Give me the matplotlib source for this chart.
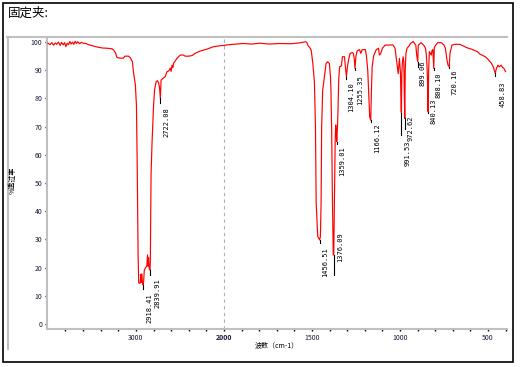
import numpy as np
import matplotlib
matplotlib.use('Agg')
import matplotlib.pyplot as plt
from matplotlib.lines import Line2D
from matplotlib.patches import Rectangle

plt.rcParams['font.family'] = ['Noto Sans CJK SC', 'DejaVu Sans']

# 红外光谱数据 (波数 cm-1, 透过率 %)
wavenumber = [
    4000, 3975, 3955, 3935, 3915, 3900, 3880, 3860, 3845, 3825, 3810, 3795, 3780,
    3765, 3750, 3735, 3720, 3705, 3690, 3675, 3660, 3640, 3620, 3600, 3570, 3530,
    3480, 3435, 3380, 3322, 3270, 3254, 3232, 3215, 3180, 3141, 3125, 3085, 3062,
    3040, 3028, 3006, 2994, 2986, 2975, 2968, 2950, 2945, 2940, 2932, 2926, 2918.41,
    2912, 2905, 2890, 2876, 2868, 2862, 2856, 2848, 2839.91, 2836, 2828, 2817, 2799,
    2788, 2770, 2755, 2742, 2732, 2722.08, 2714, 2690, 2667, 2647, 2625, 2610, 2600,
    2590, 2580, 2573, 2534, 2497, 2460, 2441, 2403, 2362, 2328, 2271, 2192, 2124,
    2045, 2000, 1983, 1893, 1840, 1797, 1740, 1684, 1620, 1571, 1535, 1528, 1525,
    1510, 1504, 1495, 1486, 1480, 1476, 1467, 1462, 1456.51, 1452, 1448, 1445, 1439,
    1429, 1420, 1411, 1401, 1395, 1392, 1388, 1384, 1379, 1376.09, 1372, 1368, 1365,
    1362, 1359.01, 1355, 1352, 1348, 1343, 1333, 1327, 1315, 1310, 1304.10, 1298,
    1290, 1283, 1270, 1265, 1260, 1255.35, 1250, 1243, 1230, 1222, 1215, 1196, 1190,
    1183, 1177, 1172, 1166.12, 1162, 1158, 1150, 1135, 1122, 1117, 1110, 1100, 1085,
    1040, 1028, 1021, 1010, 1003, 997, 993.5, 991.53, 989.5, 986, 982, 978, 975,
    972.62, 970, 966, 960, 950, 940, 925, 910, 905, 899.06, 896, 880, 865, 855, 850,
    847, 843, 840.13, 837, 833, 826, 822, 818, 813, 810, 808.10, 805, 797, 785, 765,
    750, 742, 733, 727, 720.16, 716, 705, 690, 660, 640, 620, 590, 560, 545, 515,
    500, 480, 470, 458.83, 452, 443, 436, 425, 418, 410, 400,
]
transmittance = [
    99.6, 99.1, 99.8, 98.9, 99.7, 99.2, 100.0, 98.8, 99.9, 99.0, 99.8, 98.4, 99.6,
    99.1, 100.2, 99.3, 100.0, 99.2, 100.3, 99.5, 100.1, 99.4, 99.9, 99.6, 99.5, 99.0,
    98.6, 98.2, 97.9, 97.8, 97.6, 97.2, 96.2, 94.5, 94.3, 94.3, 95.0, 95.0, 94.4,
    93.0, 89.5, 84.8, 77.6, 59.0, 24.5, 14.5, 14.5, 17.5, 14.8, 17.8, 14.5, 13.8,
    15.0, 19.0, 20.0, 20.5, 24.5, 20.5, 23.5, 19.5, 19.1, 22.0, 52.8, 64.0, 77.7,
    83.0, 86.0, 86.3, 85.5, 84.0, 80.0, 86.5, 87.2, 87.7, 89.5, 89.8, 90.8, 89.6,
    91.8, 90.9, 92.4, 94.2, 95.4, 95.4, 95.0, 95.0, 95.2, 96.0, 96.8, 97.5, 98.3,
    98.7, 98.8, 99.0, 99.5, 99.3, 99.6, 99.3, 99.5, 99.4, 99.7, 100.1, 99.8, 99.0,
    97.8, 97.0, 92.4, 85.9, 69.5, 42.9, 31.0, 30.5, 29.8, 31.0, 43.0, 69.5, 83.0,
    87.7, 92.4, 93.0, 92.4, 88.0, 83.0, 68.8, 46.0, 24.5, 24.5, 45.0, 65.0, 70.6,
    68.0, 64.7, 70.0, 75.9, 86.5, 91.2, 91.5, 94.8, 94.8, 91.2, 87.7, 91.5,
    94.2, 96.0, 96.3, 96.0, 94.2, 90.7, 95.0, 96.9, 97.3, 96.0, 97.3, 97.3, 94.8,
    90.0, 80.6, 73.5, 72.3, 83.0, 91.2, 95.0, 97.3, 97.8, 95.4, 95.8, 97.8, 98.9,
    99.0, 97.8, 94.2, 88.8, 94.2, 88.8, 75.5, 74.8, 88.8, 93.0, 94.8, 93.0, 80.0,
    72.9, 90.0, 96.0, 97.8, 98.5, 99.5, 100.2, 98.9, 95.4, 93.0, 98.9, 99.8, 98.9, 97.8, 95.4,
    92.4, 85.3, 75.3, 90.0, 96.6, 96.0, 95.4, 97.0, 97.3, 93.6, 90.7, 98.0, 98.9, 99.8, 99.8,
    98.9, 97.8, 93.6, 91.8, 91.2, 96.0, 98.9, 99.2, 99.2, 98.6, 98.0, 97.4, 96.6, 95.7, 94.8,
    93.9, 92.4, 91.2, 88.9, 90.7, 91.8, 91.2, 91.8, 91.0, 90.7, 89.5,
]

# 峰标注
peak_wn = [2918.41, 2839.91, 2722.08, 1456.51, 1376.09, 1359.01, 1304.10, 1255.35,
           1166.12, 991.53, 972.62, 899.06, 840.13, 808.10, 720.16, 458.83]
peak_labels = ['2918.41', '2839.91', '2722.08', '1456.51', '1376.09', '1359.01',
               '1304.10', '1255.35', '1166.12', '991.53', '972.62', '899.06',
               '840.13', '808.10', '720.16', '458.83']
# 标注布局: (竖线下端, 文字上端, 水平偏移像素)
peak_layout = [(12.3, 11.0, 6.5), (17.4, 16.3, 7), (78.5, 76.8, 6), (28.7, 27.3, 6),
               (17.4, 32.6, 6.5), (64.0, 62.9, 5), (86.8, 85.9, 4.5), (90.1, 88.3, 5),
               (71.7, 71.2, 6), (67.0, 65.2, 6), (69.1, 74.1, 6), (91.2, 93.6, 4.5),
               (74.7, 80.0, 5), (90.1, 89.1, 5), (90.7, 90.3, 5.5), (87.9, 85.9, 7.5)]

xticks_major = [3000, 2000, 1500, 1000, 500]
xticks_minor = [3800, 3600, 3400, 3200, 2800, 2600, 2400, 2200] + list(range(1900, 399, -100))
yticks = list(range(0, 101, 10))


# 2000 以上波数压缩一半
def fwd(x):
    x = np.asarray(x, dtype=float)
    return np.where(x >= 2000, 2000 + (x - 2000) / 2, x)


def inv(y):
    y = np.asarray(y, dtype=float)
    return np.where(y >= 2000, 2000 + (y - 2000) * 2, y)


W, H = 521, 367
fig = plt.figure(figsize=(W / 100, H / 100), dpi=100)
ax = fig.add_axes([47 / W, (H - 329) / H, 460 / W, 292 / H])

gray = '#c0c0c0'
ax.set_xscale('function', functions=(fwd, inv))
ax.set_xlim(4010, 392)
ax.set_ylim(-1.8, 101.8)

ax.axvline(2000, color='#b0b0b0', ls=(0, (3, 3)), lw=0.8, zorder=1)
ax.plot(wavenumber, transmittance, color='#ff0000', lw=0.85, zorder=3)

for wn, lab, (yend, ytop, dx) in zip(peak_wn, peak_labels, peak_layout):
    i = wavenumber.index(wn)
    ax.plot([wn, wn], [transmittance[i], yend], color='black', lw=0.8, zorder=4)
    ax.annotate(lab, xy=(wn, ytop), xytext=(dx, 0), textcoords='offset pixels',
                rotation=90, ha='center', va='top', fontsize=5,
                family='DejaVu Sans Mono', color='black')

for s in ['top', 'right']:
    ax.spines[s].set_visible(False)
for s in ['left', 'bottom']:
    ax.spines[s].set_color(gray)
    ax.spines[s].set_linewidth(1.5)

ax.set_xticks(xticks_major)
ax.set_xticks(xticks_minor, minor=True)
ax.set_xticklabels([str(t) for t in xticks_major])
ax.set_yticks(yticks)
ax.set_yticklabels([str(t) for t in yticks])
ax.tick_params(which='both', length=1.5, width=1, color='black', direction='out',
               labelsize=5, labelcolor='#1a1a3a', pad=2)
ax.get_xticklabels()[1].set_fontweight('bold')

# 外框与灰色边线
fig.patches.append(Rectangle((3 / W, (H - 362) / H), 510 / W, 359 / H, fill=False,
                             edgecolor='black', lw=1.2, transform=fig.transFigure))
fig.lines.append(Line2D([7 / W, 507 / W], [(H - 37) / H] * 2, color=gray, lw=1.5,
                        transform=fig.transFigure))
fig.lines.append(Line2D([7.5 / W] * 2, [(H - 37) / H, (H - 349) / H], color=gray, lw=1.5,
                        transform=fig.transFigure))

fig.text(8 / W, 1 - 13 / H, '固定夹:', fontsize=9, va='center', ha='left')
fig.text(13 / W, 1 - 180 / H, '%透过率', fontsize=5, rotation=90, va='center', ha='center')
fig.text(277 / W, 1 - 345 / H, '波数（cm-1）', fontsize=5, va='center', ha='center')

fig.savefig('out.png', dpi=100)
